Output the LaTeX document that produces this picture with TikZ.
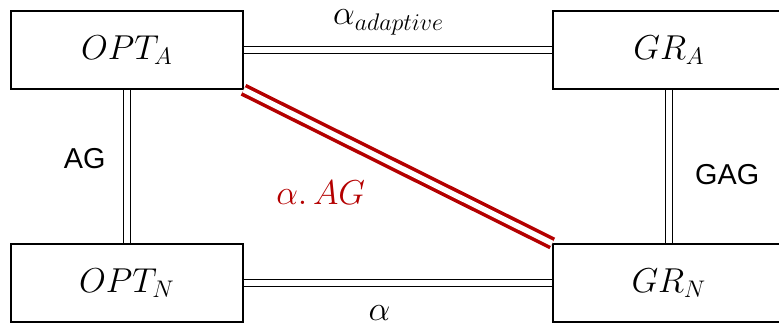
\documentclass[tikz,border=0pt]{standalone}
\usepackage{fontspec}
\newfontfamily\tagfont{Liberation Sans}
\usepackage{tikz}
\usetikzlibrary{positioning}
\definecolor{linkred}{RGB}{180,0,0}

\begin{document}
\begin{tikzpicture}[every node/.style={font=\LARGE},
  algbox/.style={draw,line width=0.7pt,minimum width=116pt,minimum height=39pt,inner sep=0pt},
  bound/.style={double,double distance=3pt,line width=0.65pt},
  ratio/.style={font=\Large\tagfont}]
  \useasboundingbox (-2.23,0.88) rectangle (11.46,-4.83);
  \node[algbox] (OA) at (0,0) {$OPT_A$};
  \node[algbox] (GA) at (9.525,0) {$GR_A$};
  \node[algbox] (ON) at (0,-4.095) {$OPT_N$};
  \node[algbox] (GN) at (9.525,-4.095) {$GR_N$};
  \draw[bound] (OA) -- node[pos=.47,above=4pt] {$\alpha_{adaptive}$} (GA);
  \draw[bound] (ON) -- node[pos=.44,below=7.5pt] {$\alpha$} (GN);
  \draw[bound] (OA) -- node[pos=.45,left=7pt,ratio] {AG} (ON);
  \draw[bound] (GA) -- node[pos=.55,right=9.5pt,ratio] {GAG} (GN);
  \draw[bound,draw=linkred,double=white,line width=1.8pt,double distance=2.8pt] (OA.south east) -- node[pos=.25,below=22pt,text=linkred] {$\alpha.\,AG$} (GN.north west);
\end{tikzpicture}
\end{document}
